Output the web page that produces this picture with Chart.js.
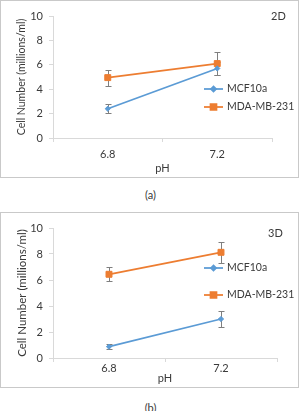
<!DOCTYPE html>
<html>
<head>
<meta charset="utf-8">
<script src="https://cdn.jsdelivr.net/npm/chart.js@4"></script>
<style>
body { margin:0; width:301px; height:411px; background:#fff; overflow:hidden; position:relative; font-family: Lato, sans-serif; color:#3a3a3a; }
.box { position:absolute; left:0; width:297px; border:1px solid #c9c9c9; }
#boxA { top:0; height:176px; }
#boxB { top:212px; height:174px; }
.box canvas { position:absolute; left:0; top:0; }
.tag { position:absolute; font-size:11px; line-height:12px; }
.cap { position:absolute; left:0; width:301px; text-align:center; font-size:11px; line-height:12px; }
</style>
</head>
<body>
<div class="box" id="boxA"><canvas id="chartA" width="297" height="176"></canvas><div class="tag" style="left:270px;top:9px">2D</div></div>
<div class="cap" style="top:189px">(a)</div>
<div class="box" id="boxB"><canvas id="chartB" width="297" height="174"></canvas><div class="tag" style="left:267px;top:14px">3D</div></div>
<div class="cap" style="top:402px">(b)</div>
<script>
const categories = ['6.8', '7.2'];
const mcf2D = [2.4, 5.7];
const mcf2DErr = [0.37, 0.5];
const mda2D = [4.95, 6.1];
const mda2DErr = [0.65, 0.95];
const mcf3D = [0.87, 3.0];
const mcf3DErr = [0.18, 0.65];
const mda3D = [6.44, 8.13];
const mda3DErr = [0.53, 0.8];
const yMin = 0, yMax = 10, yStep = 2;

const textColor = '#3a3a3a';
const axisColor = '#d9d9d9';

// error bars drawn under the lines and markers
const errorBars = {
    id: 'errorBars',
    beforeDatasetsDraw(chart) {
        let ctx = chart.ctx, y = chart.scales.y;
        chart.data.datasets.forEach(function(ds, i) {
            let meta = chart.getDatasetMeta(i);
            meta.data.forEach(function(pt, j) {
                let top = Math.round(y.getPixelForValue(ds.data[j] + ds.errors[j])) + 0.5;
                let bot = Math.round(y.getPixelForValue(ds.data[j] - ds.errors[j])) + 0.5;
                let x = Math.round(pt.x) + 0.5;
                ctx.save();
                ctx.strokeStyle = '#7f7f7f';
                ctx.lineWidth = 1;
                ctx.beginPath();
                ctx.moveTo(x, top); ctx.lineTo(x, bot);
                ctx.moveTo(x - 3, top); ctx.lineTo(x + 3, top);
                ctx.moveTo(x - 3, bot); ctx.lineTo(x + 3, bot);
                ctx.stroke();
                ctx.restore();
            });
        });
    }
};

// legend sitting inside the plot, right side
const sideLegend = {
    id: 'sideLegend',
    afterDraw(chart, args, opts) {
        let ctx = chart.ctx;
        chart.data.datasets.forEach(function(ds, i) {
            let yy = opts.ys[i];
            ctx.save();
            ctx.strokeStyle = ds.borderColor;
            ctx.lineWidth = ds.borderWidth;
            ctx.beginPath();
            ctx.moveTo(opts.x0, yy); ctx.lineTo(opts.x1, yy);
            ctx.stroke();
            ctx.fillStyle = ds.backgroundColor;
            Chart.helpers.drawPoint(ctx, {
                pointStyle: ds.pointStyle, radius: ds.pointRadius, rotation: 0, borderWidth: 1
            }, (opts.x0 + opts.x1) / 2, yy);
            ctx.fillStyle = textColor;
            ctx.font = '10.5px Lato';
            ctx.textBaseline = 'middle';
            ctx.fillText(ds.label, opts.textX, yy);
            ctx.restore();
        });
    }
};

function build(id, mcf, mcfErr, mda, mdaErr, L) {
    return new Chart(document.getElementById(id), {
        type: 'line',
        data: {
            labels: categories,
            datasets: [{
                label: 'MCF10a', data: mcf, errors: mcfErr,
                borderColor: '#5b9bd5', backgroundColor: '#5b9bd5',
                pointStyle: 'rectRot', pointRadius: 2.6, pointBorderWidth: 1, borderWidth: 1.75
            }, {
                label: 'MDA-MB-231', data: mda, errors: mdaErr,
                borderColor: '#ed7d31', backgroundColor: '#ed7d31',
                pointStyle: 'rect', pointRadius: 4.2, pointBorderWidth: 1, borderWidth: 1.75
            }]
        },
        plugins: [errorBars, sideLegend],
        options: {
            responsive: false,
            animation: false,
            layout: { padding: { top: L.top, right: L.right, left: 0, bottom: 0 } },
            plugins: {
                legend: { display: false },
                tooltip: { enabled: false },
                sideLegend: { x0: 203, x1: 222, textX: 226, ys: L.legendY }
            },
            scales: {
                x: {
                    offset: true,
                    grid: { offset: true, drawOnChartArea: false, tickLength: 4, color: axisColor },
                    border: { color: axisColor },
                    ticks: { padding: L.xPad, color: textColor, font: { family: 'Lato', size: 11 } },
                    title: { display: true, text: 'pH', color: textColor, padding: { top: 0, bottom: 2 }, font: { family: 'Lato', size: 11 } },
                    afterFit: function(s) { s.height = L.xh; }
                },
                y: {
                    min: yMin, max: yMax,
                    grid: { drawOnChartArea: false, tickLength: 4, color: axisColor },
                    border: { color: axisColor },
                    ticks: { stepSize: yStep, padding: 6, color: textColor, font: { family: 'Lato', size: 11 } },
                    title: { display: true, text: 'Cell Number (millions/ml)', color: textColor, padding: { top: 14, bottom: 0 }, font: { family: 'Lato', size: L.titleSize } },
                    afterFit: function(s) { s.width = 52; }
                }
            }
        }
    });
}

build('chartA', mcf2D, mcf2DErr, mda2D, mda2DErr, { top: 15, right: 26, xh: 39, xPad: 6, legendY: [88, 106], titleSize: 10.5 });
build('chartB', mcf3D, mcf3DErr, mda3D, mda3DErr, { top: 15, right: 21, xh: 29, xPad: 0, legendY: [55, 82], titleSize: 11.5 });
</script>
</body>
</html>
